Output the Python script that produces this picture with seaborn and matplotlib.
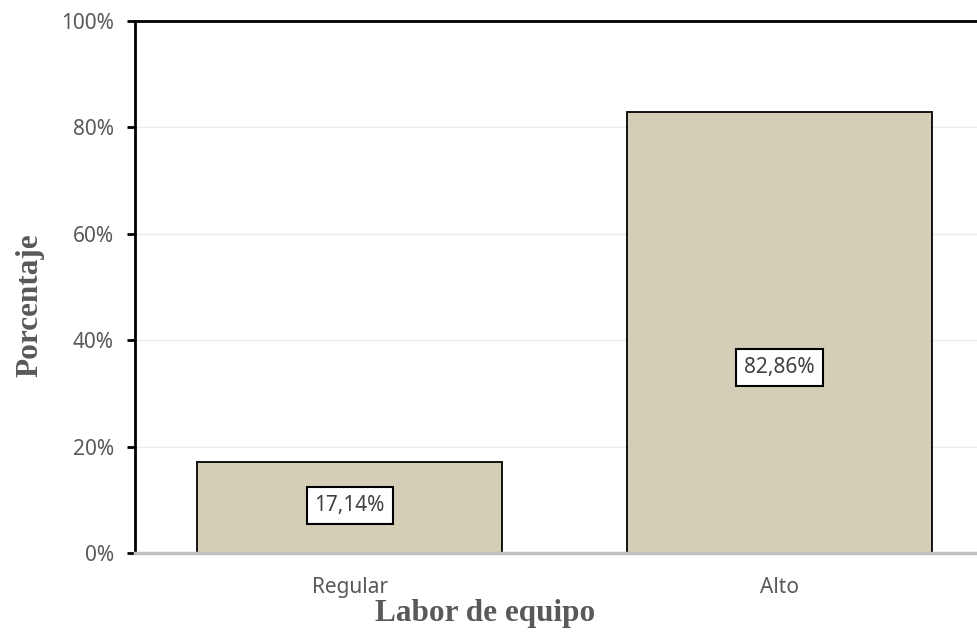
import matplotlib
matplotlib.use("Agg")
import matplotlib.pyplot as plt
import seaborn as sns
import pandas as pd
from matplotlib.ticker import PercentFormatter

categorias = ["Regular", "Alto"]
porcentajes = [17.14, 82.86]
etiquetas = ["17,14%", "82,86%"]
altura_etiqueta = [9.0, 34.8]

df = pd.DataFrame({"Labor de equipo": categorias, "Porcentaje": porcentajes})

sns.set_theme(style="white")
plt.rcParams["font.family"] = ["Noto Sans", "DejaVu Sans"]

fig = plt.figure(figsize=(9.77, 6.32), dpi=100)
ax = fig.add_axes([0.138, 0.125, 0.880, 0.842])

sns.barplot(data=df, x="Labor de equipo", y="Porcentaje", ax=ax,
            color="#D1CAB0", saturation=1, width=0.71, alpha=0.92,
            edgecolor="black", linewidth=1.4, zorder=2)
for p in ax.patches:
    p.set_edgecolor((0, 0, 0, 1))

ax.set_ylim(0, 100)
ax.set_xlim(-0.5, 1.5)
ax.set_yticks([0, 20, 40, 60, 80, 100])
ax.yaxis.set_major_formatter(PercentFormatter(decimals=0))
ax.yaxis.grid(True, color="#EBEBEB", linewidth=1.0, zorder=1)
ax.set_axisbelow(True)

for s in ["top", "left"]:
    ax.spines[s].set_color("black")
    ax.spines[s].set_linewidth(2)
ax.spines["right"].set_visible(False)
ax.spines["bottom"].set_color("#BFBFBF")
ax.spines["bottom"].set_linewidth(2.5)
ax.spines["bottom"].set_zorder(4)

ax.tick_params(axis="y", which="major", direction="out", length=6, width=2,
               color="black", left=True, labelsize=15, labelcolor="#595959", pad=9)
ax.tick_params(axis="x", length=0, labelsize=15, labelcolor="#595959", pad=17)

lab_font = dict(family="Liberation Serif", weight="bold", size=22.5, color="#595959")
ax.set_xlabel("Labor de equipo", fontdict=lab_font)
ax.set_ylabel("Porcentaje", fontdict=lab_font)
ax.xaxis.set_label_coords(485 / 977, 18 / 632, transform=fig.transFigure)
ax.yaxis.set_label_coords(30 / 977, 1 - 305 / 632, transform=fig.transFigure)
ax.xaxis.label.set_va("center")
ax.yaxis.label.set_va("center")

for i, (txt, yy) in enumerate(zip(etiquetas, altura_etiqueta)):
    ax.text(i, yy, txt, ha="center", va="center", fontsize=15, color="#404040",
            zorder=5,
            bbox=dict(boxstyle="square,pad=0.38", facecolor="white",
                      edgecolor="black", linewidth=1.5))

fig.savefig("out.png", dpi=100)
